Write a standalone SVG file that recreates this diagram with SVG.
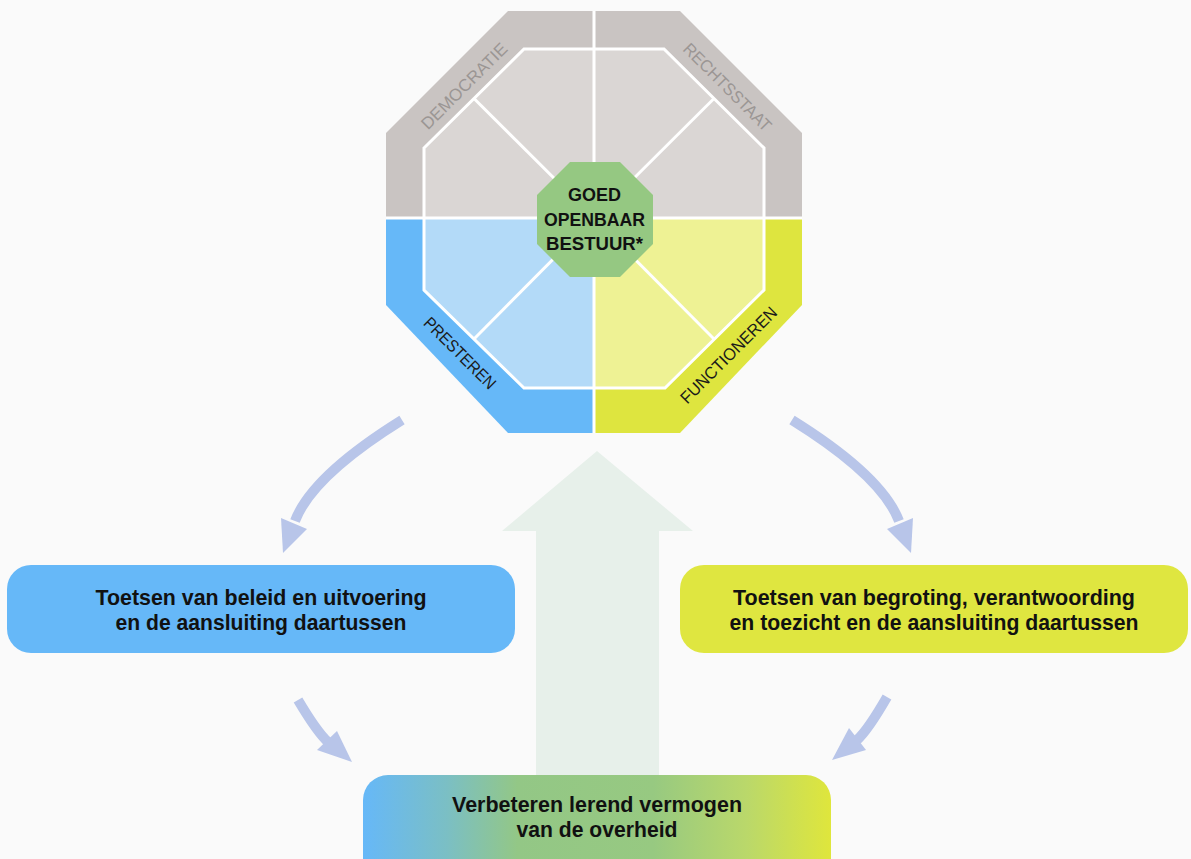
<svg xmlns="http://www.w3.org/2000/svg" width="1191" height="859" viewBox="0 0 1191 859">
<defs>
<linearGradient id="gBottom" x1="0" y1="0" x2="1" y2="0">
<stop offset="0" stop-color="#66b8f8"/>
<stop offset="0.18" stop-color="#7bbfc4"/>
<stop offset="0.33" stop-color="#93c786"/>
<stop offset="0.62" stop-color="#97c981"/>
<stop offset="0.82" stop-color="#bad86a"/>
<stop offset="1" stop-color="#dfe63c"/>
</linearGradient>
</defs>
<style>
.bt{font-family:"Liberation Sans",Arial,sans-serif;font-weight:bold;font-size:22.5px;fill:#111;text-anchor:middle}
.ct{font-family:"Liberation Sans",Arial,sans-serif;font-weight:bold;font-size:19px;fill:#111;text-anchor:middle}
.lab{font-family:"Liberation Sans",Arial,sans-serif;font-size:17px;text-anchor:middle}
.lg{fill:#9b9694}
.ld{fill:#1a1a1a}
.wl{stroke:#ffffff;stroke-width:3;fill:none}
.arr{fill:none;stroke:#b8c5e9;stroke-width:10}
.ah{fill:#b8c5e9}
</style>
<rect x="0" y="0" width="1191" height="859" fill="#fafafa"/>

<g id="big-arrow">
<polygon points="597,451 693,531 659,531 659,790 536,790 536,531 502,531" fill="#e7f0ea"/>
</g>

<g id="octagon">
<polygon points="386,218 386,133 508,11 680,11 802,133 802,218" fill="#c9c4c2"/>
<polygon points="386,218 594,218 594,433 508,433 386,305" fill="#66b8f8"/>
<polygon points="594,218 802,218 802,305 680,433 594,433" fill="#dee53f"/>
<polygon points="424,218 424,148 524,49 664,49 764,148 764,218" fill="#dad6d4"/>
<polygon points="424,218 594,218 594,388 524,388 424,290" fill="#b3daf8"/>
<polygon points="594,218 764,218 764,290 665,388 594,388" fill="#eef294"/>
<polygon class="wl" points="424,148 524,49 664,49 764,148 764,290 665,388 524,388 424,290"/>
<line class="wl" x1="594" y1="11" x2="594" y2="433"/>
<line class="wl" x1="386" y1="218" x2="802" y2="218"/>
<line class="wl" x1="474" y1="98.5" x2="594" y2="218"/>
<line class="wl" x1="714" y1="98.5" x2="594" y2="218"/>
<line class="wl" x1="474" y1="339" x2="594" y2="218"/>
<line class="wl" x1="714" y1="339" x2="594" y2="218"/>
<text class="lab lg" transform="translate(464,86) rotate(-45)" x="0" y="6" textLength="114" lengthAdjust="spacingAndGlyphs">DEMOCRATIE</text>
<text class="lab lg" transform="translate(727.5,87) rotate(45)" x="0" y="6" textLength="117" lengthAdjust="spacingAndGlyphs">RECHTSSTAAT</text>
<text class="lab ld" transform="translate(460,353) rotate(45)" x="0" y="6" textLength="94" lengthAdjust="spacingAndGlyphs">PRESTEREN</text>
<text class="lab ld" transform="translate(728.5,355) rotate(-45)" x="0" y="6" textLength="129" lengthAdjust="spacingAndGlyphs">FUNCTIONEREN</text>
</g>

<g id="center">
<polygon points="570,162 620,162 653,195 653,244 620,277 570,277 537,244 537,195" fill="#95c882"/>
<text class="ct" x="594.5" y="201" textLength="53" lengthAdjust="spacingAndGlyphs">GOED</text>
<text class="ct" x="594.5" y="225.5" textLength="101" lengthAdjust="spacingAndGlyphs">OPENBAAR</text>
<text class="ct" x="594.5" y="249.5" textLength="97" lengthAdjust="spacingAndGlyphs">BESTUUR*</text>
</g>

<g id="box-left">
<rect x="7" y="565" width="508" height="88" rx="24" fill="#66b8f8"/>
<text class="bt" x="261" y="605" textLength="331" lengthAdjust="spacingAndGlyphs">Toetsen van beleid en uitvoering</text>
<text class="bt" x="261" y="630" textLength="291" lengthAdjust="spacingAndGlyphs">en de aansluiting daartussen</text>
</g>

<g id="box-right">
<rect x="680" y="565" width="508" height="88" rx="24" fill="#dfe640"/>
<text class="bt" x="934" y="605" textLength="402" lengthAdjust="spacingAndGlyphs">Toetsen van begroting, verantwoording</text>
<text class="bt" x="934" y="630" textLength="409" lengthAdjust="spacingAndGlyphs">en toezicht en de aansluiting daartussen</text>
</g>

<g id="box-bottom">
<rect x="363" y="775" width="468" height="120" rx="25" fill="url(#gBottom)"/>
<text class="bt" x="597" y="812" textLength="290" lengthAdjust="spacingAndGlyphs">Verbeteren lerend vermogen</text>
<text class="bt" x="597" y="837" textLength="161" lengthAdjust="spacingAndGlyphs">van de overheid</text>
</g>

<g id="connectors">
<path class="arr" d="M402,420 Q312,476 295,521"/>
<polygon class="ah" points="281,518 307,529 283,553"/>
<path class="arr" d="M792,420 Q882,476 899,521"/>
<polygon class="ah" points="913,518 887,529 911,553"/>
<path class="arr" d="M298,700 Q317,732 328,742"/>
<polygon class="ah" points="317,750 337,731 352,762"/>
<path class="arr" d="M887,697 Q868,730 857,740"/>
<polygon class="ah" points="849,728 866,750 832,760"/>
</g>
</svg>
